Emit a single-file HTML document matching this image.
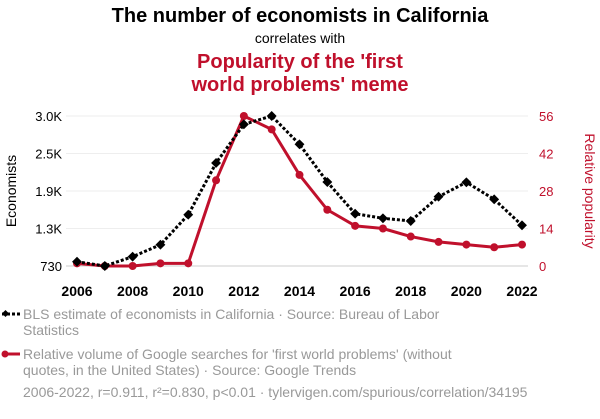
<!DOCTYPE html>
<html><head><meta charset="utf-8"><style>
body{margin:0;background:#fff;width:600px;height:414px;overflow:hidden;font-family:"Liberation Sans",sans-serif}
</style></head><body>
<svg width="600" height="414" viewBox="0 0 600 414" xmlns="http://www.w3.org/2000/svg" font-family="Liberation Sans, sans-serif">
<text x="300" y="22" text-anchor="middle" font-size="20" font-weight="bold" fill="#000">The number of economists in California</text>
<text x="300" y="43" text-anchor="middle" font-size="14" fill="#000">correlates with</text>
<text x="300" y="68" text-anchor="middle" font-size="20" font-weight="bold" fill="#c0102c">Popularity of the 'first</text>
<text x="300" y="91" text-anchor="middle" font-size="20" font-weight="bold" fill="#c0102c">world problems' meme</text>
<g id="grid"></g><g id="axes"></g><g id="series"></g>
<text transform="translate(16,191) rotate(-90)" text-anchor="middle" font-size="14" fill="#000">Economists</text>
<text transform="translate(585,191) rotate(90)" text-anchor="middle" font-size="14" fill="#c0102c">Relative popularity</text>
<g>
<line x1="2" y1="314" x2="20" y2="314" stroke="#000" stroke-width="3" stroke-dasharray="3,2"/>
<rect x="3" y="311" width="5" height="5" transform="rotate(45 5.5 313.5)" fill="#000"/>
<text x="23" y="319" font-size="14" fill="#999">BLS estimate of economists in California · Source: Bureau of Labor</text>
<text x="23" y="335" font-size="14" fill="#999">Statistics</text></g>
<g>
<line x1="2" y1="354" x2="20" y2="354" stroke="#c0102c" stroke-width="3"/>
<circle cx="5" cy="354" r="3.5" fill="#c0102c"/>
<text x="23" y="359" font-size="14" fill="#999">Relative volume of Google searches for 'first world problems' (without</text>
<text x="23" y="375" font-size="14" fill="#999">quotes, in the United States) · Source: Google Trends</text></g>
<text x="23" y="397" font-size="14" fill="#999">2006-2022, r=0.911, r²=0.830, p&lt;0.01 · tylervigen.com/spurious/correlation/34195</text>
</svg>
<script>
const years=[2006,2007,2008,2009,2010,2011,2012,2013,2014,2015,2016,2017,2018,2019,2020,2021,2022];
const economists=[795,730,871,1052,1506,2289,2874,3000,2572,2001,1521,1452,1411,1779,1997,1739,1346];
const popularity=[1,0,0,1,1,32,56,51,34,21,15,14,11,9,8,7,8];
const leftTicks=[730,1297.5,1865,2432.5,3000];
const leftTickLabels=["730","1.3K","1.9K","2.5K","3.0K"];
const rightTicks=[0,14,28,42,56];
const xTicks=[2006,2008,2010,2012,2014,2016,2018,2020,2022];
const NS="http://www.w3.org/2000/svg";
const X=y=>77+(y-2006)*(522-77)/16;
const YL=v=>266-(v-730)/(3000-730)*150;
const YR=v=>266-v/56*150;
function mk(t,a,p){const e=document.createElementNS(NS,t);for(const k in a)e.setAttribute(k,a[k]);p.appendChild(e);return e;}
const grid=document.getElementById('grid'),axes=document.getElementById('axes'),ser=document.getElementById('series');
leftTicks.forEach((v,i)=>{
 const g=mk('line',{x1:66,x2:528,y1:YL(v),y2:YL(v),stroke:i==0?'#ccc':'#eee','stroke-width':1},grid);
 
 
 const t=mk('text',{x:62,y:YL(v)+5,'text-anchor':'end','font-size':13,fill:'#000'},axes);t.textContent=leftTickLabels[i];
 
 
});
rightTicks.forEach(v=>{
 const t=mk('text',{x:539,y:YR(v)+5,'font-size':13,fill:'#c0102c'},axes);t.textContent=v;
 
 
});
xTicks.forEach(y=>{
 const t=mk('text',{x:X(y),y:296,'text-anchor':'middle','font-size':14,'font-weight':'bold',fill:'#000'},axes);t.textContent=y;
 
 
});
const rp=mk('polyline',{points:years.map((y,i)=>X(y)+','+YR(popularity[i])).join(' '),fill:'none',stroke:'#c0102c','stroke-width':3,'stroke-linejoin':'round'},ser);


years.forEach((y,i)=>{const c=mk('circle',{cx:X(y),cy:YR(popularity[i]),r:4,fill:'#c0102c'},ser);
 
 });
const bp=mk('polyline',{points:years.map((y,i)=>X(y)+','+YL(economists[i])).join(' '),fill:'none',stroke:'#000','stroke-width':3,'stroke-dasharray':'3,2'},ser);


years.forEach((y,i)=>{const cx=X(y),cy=YL(economists[i]);
 const d=mk('rect',{x:cx-3.5,y:cy-3.5,width:7,height:7,fill:'#000',transform:`rotate(45 ${cx} ${cy})`},ser);
 
 });
</script>
</body></html>
